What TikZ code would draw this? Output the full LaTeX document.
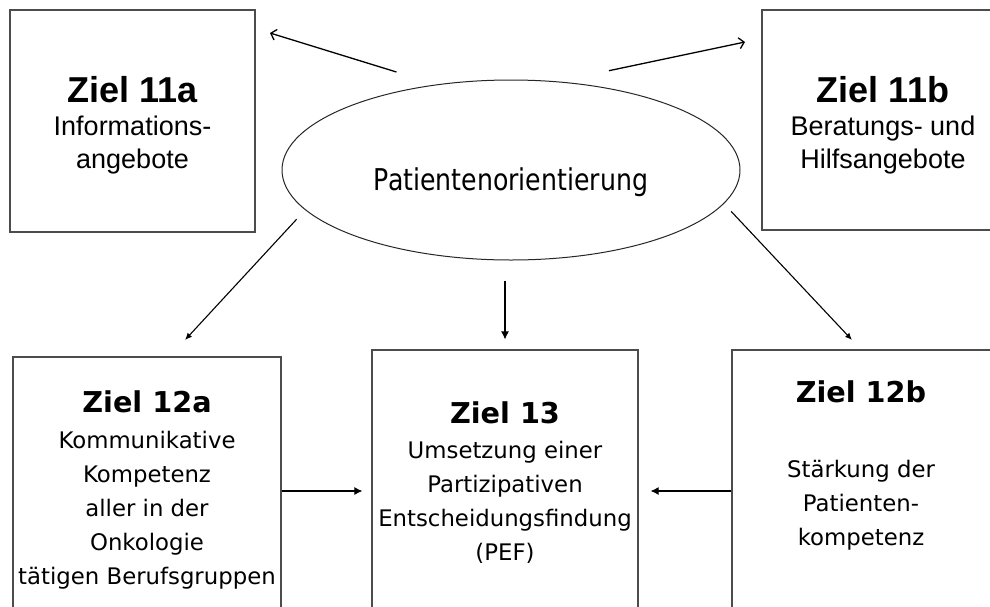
\documentclass[tikz,border=0pt]{standalone}
\usepackage{fontspec}
\usepackage{tikz}
\usetikzlibrary{arrows.meta,shapes.geometric}
\newfontfamily\arialfont{Liberation Sans}
\newfontfamily\verdfont{DejaVu Sans}
\newfontfamily\condfont[FakeStretch=0.84]{DejaVu Sans}
\newcommand{\topfont}{\arialfont\fontsize{27}{33}\selectfont}
\newcommand{\toptitel}{\bfseries\fontsize{36}{33}\selectfont}
\newcommand{\botfont}{\verdfont\fontsize{22.8}{34}\selectfont}
\newcommand{\bottitel}{\bfseries\fontsize{28.7}{34}\selectfont}

\begin{document}
\begin{tikzpicture}[x=1pt,y=-1pt,
    zbox/.style={draw=black!70,line width=1.2pt,rectangle,inner sep=0pt},
    ztext/.style={anchor=base,inner sep=0pt},
    pfeil/.style={line width=1.1pt,-{Latex[length=8pt,width=8pt]}},
    kpfeil/.style={line width=1.1pt,-{Latex[length=7pt,width=6pt]}},
    offen/.style={line width=1.3pt,-{Straight Barb[length=5pt,width=11pt]}}]
        \useasboundingbox (0,0) rectangle (990,606);
        \clip (0,0) rectangle (990,606);
        % Kern: Patientenorientierung
        \node[ellipse,draw=black!85,line width=1pt,minimum width=458pt,minimum height=180pt] (pat) at (511,170) {};
        \node[ztext,font=\condfont\fontsize{30}{30}\selectfont] (pattxt) at (511,190) {Patientenorientierung};
        % obere Ziele
        \node[zbox,minimum width=245pt,minimum height=222pt] (z11a) at (132.5,121) {};
        \node[ztext,font=\topfont] (t11a) at (132.5,102.5) {\begin{tabular}[t]{@{}c@{}}
          {\toptitel Ziel 11a}\\ Informations-\\ angebote\end{tabular}};
        \node[zbox,minimum width=242pt,minimum height=220pt] (z11b) at (883,120) {};
        \node[ztext,font=\topfont] (t11b) at (883,102.5) {\begin{tabular}[t]{@{}c@{}}
          {\toptitel Ziel 11b}\\ Beratungs- und\\ Hilfsangebote\end{tabular}};
        % untere Ziele
        \node[zbox,minimum width=268pt,minimum height=268pt] (z12a) at (147,491) {};
        \node[ztext,font=\botfont] (t12a) at (147,412) {\begin{tabular}[t]{@{}c@{}}
          {\bottitel Ziel 12a}\\[2pt] Kommunikative\\ Kompetenz\\ aller in der\\ Onkologie\\
          tätigen Berufsgruppen\end{tabular}};
        \node[zbox,minimum width=266pt,minimum height=282pt] (z13) at (505,491) {};
        \node[ztext,font=\botfont] (t13) at (505,423) {\begin{tabular}[t]{@{}c@{}}
          {\bottitel Ziel 13}\\[1pt] Umsetzung einer\\ Partizipativen\\ Entscheidungsfindung\\
          (PEF)\end{tabular}};
        \node[zbox,minimum width=260pt,minimum height=282pt] (z12b) at (862,491) {};
        \node[ztext,font=\botfont] (t12b) at (861,402) {\begin{tabular}[t]{@{}c@{}}
          {\bottitel Ziel 12b}\\[41pt] Stärkung der\\ Patienten-\\ kompetenz\end{tabular}};
        % Pfeilspitzen
        \coordinate (tip11a) at (270,33);
        \coordinate (tip11b) at (745,42);
        \coordinate (tip12a) at (185,340);
        \coordinate (tip12b) at (852,340);
        \draw[offen,shorten <=42pt] (pat.131.4) -- (tip11a);
        \draw[offen,shorten <=52pt] (pat.62.4) -- (tip11b);
        \draw[kpfeil,shorten <=12.5pt] (pat.191.3) -- (tip12a);
        \draw[kpfeil,shorten <=10.5pt] (pat.351.4) -- (tip12b);
        \draw[pfeil,shorten <=20pt,shorten >=10pt] (z13.north |- pat.south) -- (z13.north);
        \draw[pfeil,shorten >=9pt] (z12a.east) -- (z13.west);
        \draw[pfeil,shorten >=12pt] (z12b.west) -- (z13.east);
\end{tikzpicture}
\end{document}
